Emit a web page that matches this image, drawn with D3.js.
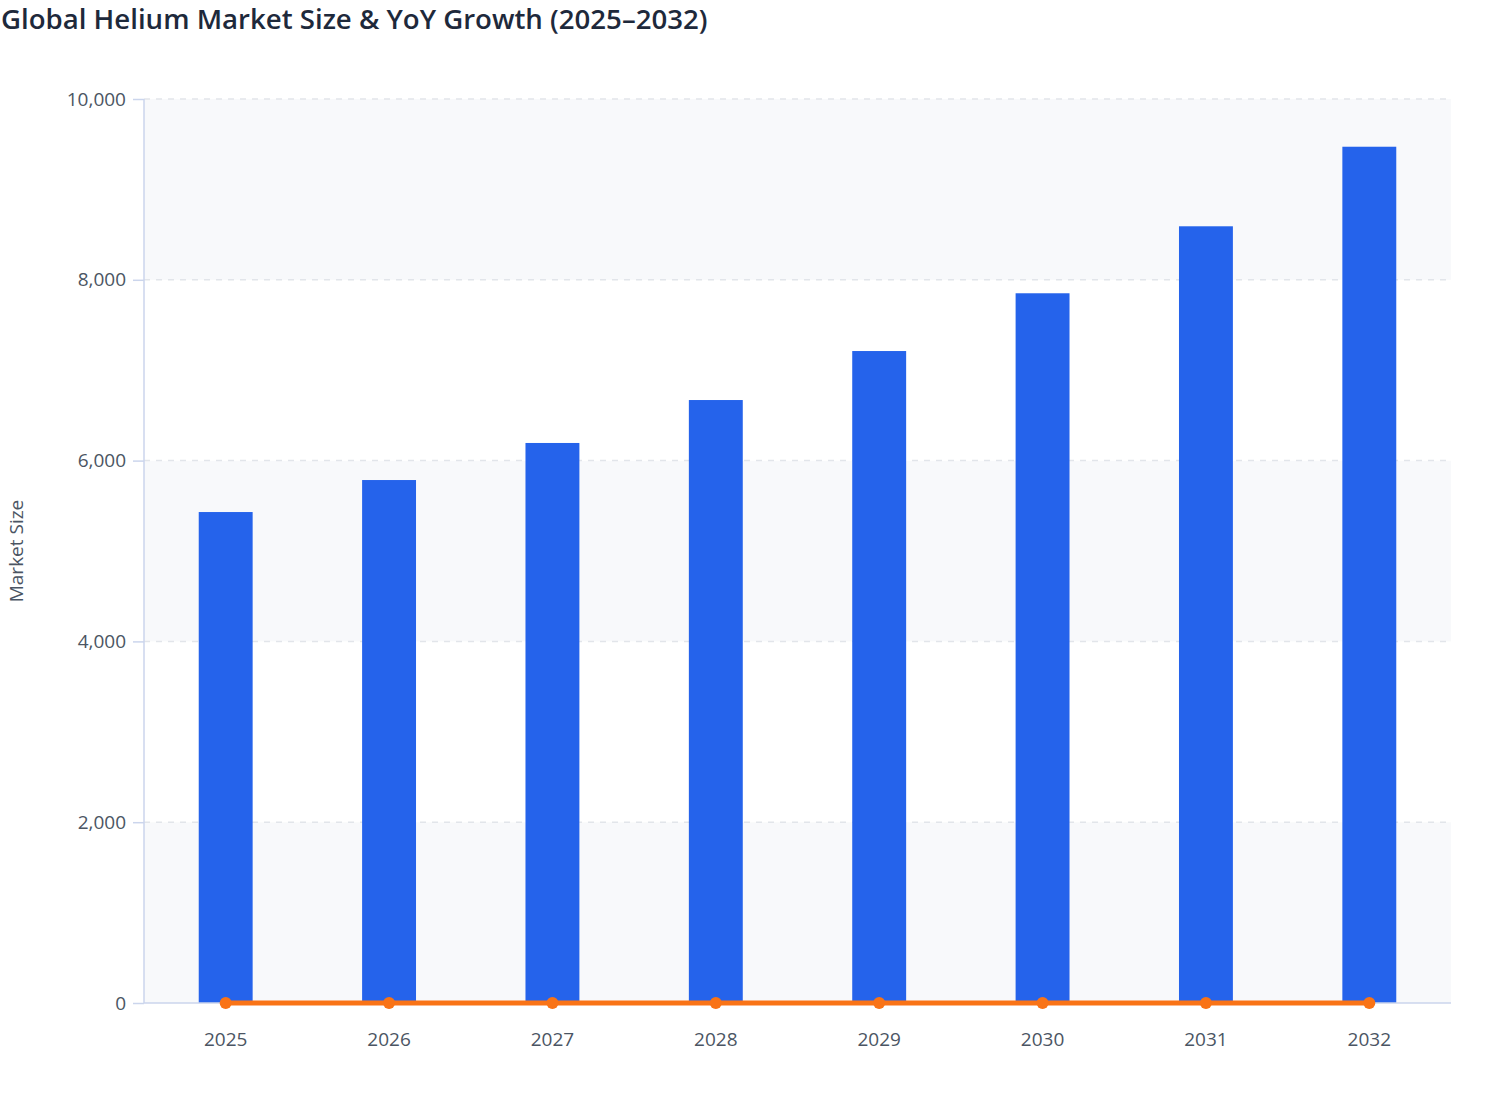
<!DOCTYPE html>
<html>
<head>
<meta charset="utf-8">
<script src="https://cdn.jsdelivr.net/npm/d3@7"></script>
<style>
  body { margin: 0; background: #fff; }
  svg { display: block; font-family: "Open Sans", "Noto Sans", sans-serif; }
</style>
</head>
<body>
<svg id="chart" width="1508" height="1120"></svg>
<script>
// chart data
const years = ["2025", "2026", "2027", "2028", "2029", "2030", "2031", "2032"];
const marketSize = [5431, 5785, 6195, 6670, 7212, 7851, 8592, 9472];
// growth is plotted on the same axis, so it sits flat on zero
const yoyGrowth = [0, 0.065, 0.071, 0.077, 0.081, 0.089, 0.094, 0.102];
const yTicks = [0, 2000, 4000, 6000, 8000, 10000];

const svg = d3.select("#chart");
const margin = { top: 99, right: 57, bottom: 117, left: 144 };
const width = 1508 - margin.left - margin.right;
const height = 1120 - margin.top - margin.bottom;

// title
svg.append("text")
    .attr("x", 1)
    .attr("y", 29)
    .attr("font-size", 27.6)
    .attr("font-weight", 600)
    .attr("fill", "#1e293b")
    .text("Global Helium Market Size & YoY Growth (2025–2032)");

const g = svg.append("g").attr("transform", `translate(${margin.left},${margin.top})`);

const x = d3.scaleBand().domain(years).range([0, width]);
const y = d3.scaleLinear().domain([0, 10000]).range([height, 0]);

// alternating background bands
g.selectAll(".band")
    .data(d3.pairs(yTicks))
    .enter()
    .append("rect")
    .attr("x", 0)
    .attr("width", width)
    .attr("y", d => y(d[1]))
    .attr("height", d => y(d[0]) - y(d[1]))
    .attr("fill", (d, i) => i % 2 === 0 ? "#f8f9fb" : "#ffffff");

// dashed grid
g.selectAll(".grid")
    .data(yTicks.filter(d => d > 0))
    .enter()
    .append("line")
    .attr("x1", 0)
    .attr("x2", width)
    .attr("y1", d => y(d))
    .attr("y2", d => y(d))
    .attr("stroke", "#e2e5ea")
    .attr("stroke-width", 1.5)
    .attr("stroke-dasharray", "6,6");

// bars
const barW = x.bandwidth() * 0.33;
g.selectAll(".bar")
    .data(marketSize)
    .enter()
    .append("rect")
    .attr("x", (d, i) => x(years[i]) + (x.bandwidth() - barW) / 2)
    .attr("width", barW)
    .attr("y", d => y(d))
    .attr("height", d => height - y(d))
    .attr("fill", "#2563eb");

// y axis
const yAxis = g.append("g")
    .call(d3.axisLeft(y).tickValues(yTicks).tickSize(11).tickPadding(7).tickFormat(d3.format(",")));
yAxis.select(".domain").attr("stroke", "#cbd5ec").attr("stroke-width", 1.5)
    .attr("d", `M0,${height}V0`);
yAxis.selectAll(".tick line").attr("stroke", "#cbd5ec").attr("stroke-width", 1.5);
yAxis.selectAll(".tick text").attr("font-size", 19).attr("fill", "#4b5563")
    .attr("font-family", "Open Sans, Noto Sans, sans-serif");

// x axis
const xAxis = g.append("g")
    .attr("transform", `translate(0,${height})`)
    .call(d3.axisBottom(x).tickSize(6).tickPadding(24));
xAxis.select(".domain").attr("stroke", "#cbd5ec").attr("stroke-width", 1.5)
    .attr("d", `M0,0H${width}`);
xAxis.selectAll(".tick line").attr("stroke", "#cbd5ec").attr("stroke-width", 1.5);
xAxis.selectAll(".tick text").attr("font-size", 19).attr("fill", "#4b5563")
    .attr("font-family", "Open Sans, Noto Sans, sans-serif");

// y axis title
svg.append("text")
    .attr("transform", `translate(23,${margin.top + height / 2}) rotate(-90)`)
    .attr("text-anchor", "middle")
    .attr("font-size", 19)
    .attr("fill", "#4b5563")
    .text("Market Size");

// growth line (same axis)
const line = d3.line()
    .x((d, i) => x(years[i]) + x.bandwidth() / 2)
    .y(d => y(d));

g.append("path")
    .datum(yoyGrowth)
    .attr("d", line)
    .attr("fill", "none")
    .attr("stroke", "#f97316")
    .attr("stroke-width", 5);

g.selectAll(".dot")
    .data(yoyGrowth)
    .enter()
    .append("circle")
    .attr("cx", (d, i) => x(years[i]) + x.bandwidth() / 2)
    .attr("cy", d => y(d))
    .attr("r", 6)
    .attr("fill", "#f97316");
</script>
</body>
</html>
